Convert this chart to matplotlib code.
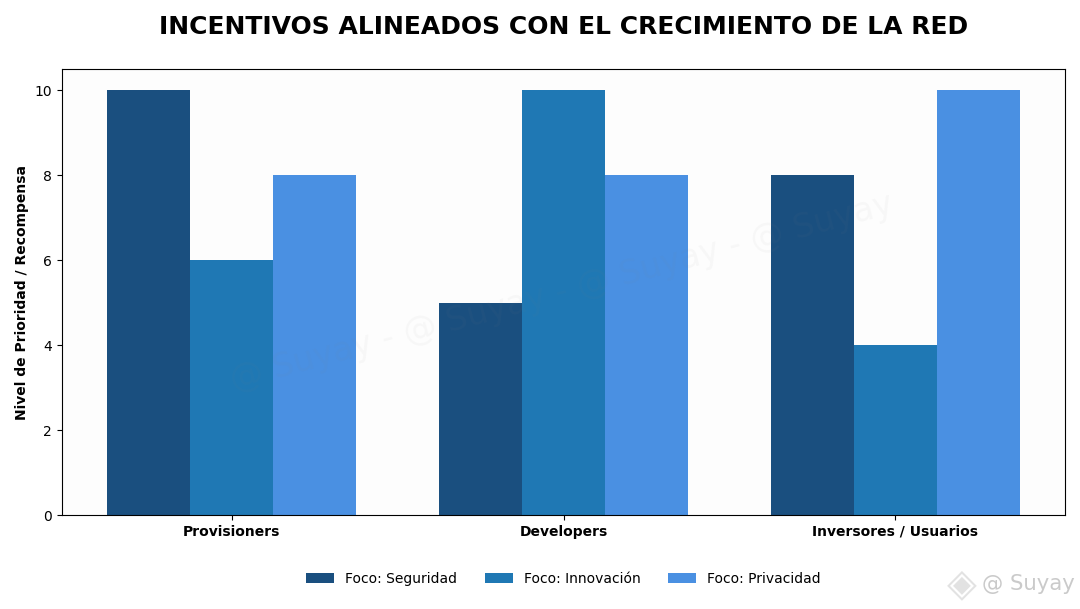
#! /usr/bin/env python
import matplotlib
matplotlib.use('Agg')
import matplotlib.pyplot as plt
import numpy as np

categories = ['Provisioners', 'Developers', 'Inversores / Usuarios']
seguridad = [10, 5, 8]
innovacion = [6, 10, 4]
privacidad = [8, 8, 10]
series_labels = ['Foco: Seguridad', 'Foco: Innovación', 'Foco: Privacidad']
colors = ['#1a4f7f', '#1f78b4', '#4a90e2']

fig = plt.figure(figsize=(10.8, 6.09), dpi=100)
ax = fig.add_axes([61.8/1080, 1-515.2/609, (1065.2-61.8)/1080, (515.2-69)/609])
ax.set_facecolor('#fdfdfd')

x = np.arange(len(categories))
width = 0.25
for i, vals in enumerate([seguridad, innovacion, privacidad]):
    ax.bar(x + (i-1)*width, vals, width, color=colors[i], label=series_labels[i])

ax.set_xticks(x)
ax.set_xticklabels(categories, fontweight='bold', fontsize=10)
ax.set_ylabel('Nivel de Prioridad / Recompensa', fontweight='bold', fontsize=10)
ax.yaxis.set_label_coords(-33/1003, 0.5)

fig.text(563.5/1080, 1-26.5/609, 'INCENTIVOS ALINEADOS CON EL CRECIMIENTO DE LA RED',
         fontsize=18, fontweight='bold', ha='center', va='center')

fig.legend(loc='center', bbox_to_anchor=(563.5/1080, 1-579/609), ncol=3, frameon=False,
           fontsize=10)

# faint diagonal watermark, over the bars
fig.text(562/1080, 1-292/609, '@ Suyay - @ Suyay - @ Suyay - @ Suyay', fontsize=24,
         color='#888888', alpha=0.05, rotation=15, rotation_mode='anchor',
         ha='center', va='center')
# corner mark
fig.text(982/1080, 1-584/609, '@ Suyay', fontsize=15.3, color='#b4b4b4', alpha=0.7,
         ha='left', va='center')
fig.text(962/1080, 1-584/609, '\u25c8', fontsize=28, color='#d0d0d0', alpha=0.6,
         ha='center', va='center')

fig.savefig('out.png', dpi=100)
